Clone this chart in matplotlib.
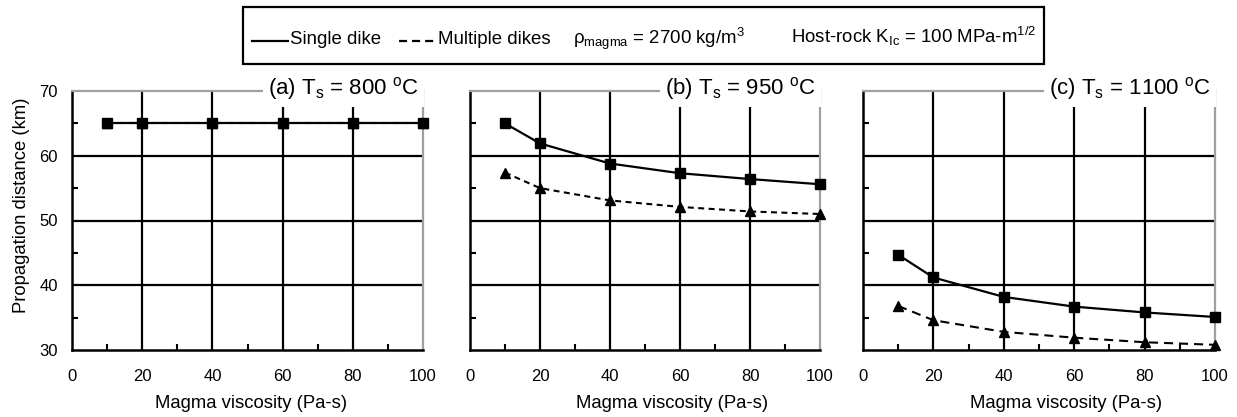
import matplotlib
matplotlib.use('Agg')
import matplotlib.pyplot as plt
from matplotlib import font_manager as fm
from matplotlib.lines import Line2D
from matplotlib.patches import Rectangle
from matplotlib.ticker import MultipleLocator

# ---------------- data ----------------
viscosity = [10, 20, 40, 60, 80, 100]
single_a = [65.0, 65.0, 65.0, 65.0, 65.0, 65.0]
multi_a = [65.0, 65.0, 65.0, 65.0, 65.0, 65.0]
single_b = [65.0, 61.9, 58.8, 57.3, 56.4, 55.6]
multi_b = [57.4, 55.0, 53.1, 52.1, 51.4, 51.0]
single_c = [44.7, 41.2, 38.2, 36.7, 35.8, 35.1]
multi_c = [36.8, 34.6, 32.8, 31.9, 31.2, 30.8]
panel_titles = [r'(a) T$_{\mathsf{s}}$ = 800 $^{\mathsf{o}}$C',
                r'(b) T$_{\mathsf{s}}$ = 950 $^{\mathsf{o}}$C',
                r'(c) T$_{\mathsf{s}}$ = 1100 $^{\mathsf{o}}$C']
x_label = 'Magma viscosity (Pa-s)'
y_label = 'Propagation distance (km)'

# ---------------- fonts ----------------
try:
    fm.findfont(fm.FontProperties(family='Liberation Sans Narrow'), fallback_to_default=False)
    title_family, title_size = 'Liberation Sans Narrow', 19
except ValueError:
    title_family, title_size = 'Liberation Sans', 16

plt.rcParams['font.family'] = ['Liberation Sans', 'DejaVu Sans']
plt.rcParams['mathtext.fontset'] = 'custom'
plt.rcParams['mathtext.rm'] = 'Liberation Sans'
plt.rcParams['mathtext.it'] = 'Liberation Sans:italic'
plt.rcParams['mathtext.sf'] = title_family
plt.rcParams['lines.scale_dashes'] = False

W, H = 1237, 417
fig = plt.figure(figsize=(W / 100, H / 100), dpi=100)


def px_axes(x0, x1, y0, y1):
    return fig.add_axes([x0 / W, 1 - y1 / H, (x1 - x0) / W, (y1 - y0) / H])


axes_px = [(72, 423, 91, 350), (470, 820, 91, 350), (863, 1215, 91, 350)]
xlabel_cx = [251, 672, 1066]
dash_patterns = [(4.3, 3.6), (4.3, 3.2), (6.5, 4.3)]
singles = [single_a, single_b, single_c]
multis = [multi_a, multi_b, multi_c]
gray = '#a0a0a0'

for i, (box, title) in enumerate(zip(axes_px, panel_titles)):
    ax = px_axes(*box)
    ax.set_xlim(0, 100)
    ax.set_ylim(30, 70)
    ax.xaxis.set_major_locator(MultipleLocator(20))
    ax.xaxis.set_minor_locator(MultipleLocator(10))
    ax.yaxis.set_major_locator(MultipleLocator(10))
    ax.yaxis.set_minor_locator(MultipleLocator(5))
    ax.tick_params(which='major', length=0, labelsize=12)
    ax.tick_params(axis='x', which='major', pad=14)
    ax.tick_params(axis='y', which='major', pad=10)
    ax.tick_params(which='minor', direction='in', length=4, width=1.5, color='black')
    if i > 0:
        ax.tick_params(axis='y', labelleft=False)
    for s in ['left', 'bottom']:
        ax.spines[s].set_color('black')
        ax.spines[s].set_linewidth(1.8)
    for s in ['top', 'right']:
        ax.spines[s].set_color(gray)
        ax.spines[s].set_linewidth(1.6)
    for gx in [20, 40, 60, 80]:
        ax.axvline(gx, color='black', lw=1.6, zorder=1)
    for gy in [40, 50, 60]:
        ax.axhline(gy, color='black', lw=1.6, zorder=1)

    ax.plot(viscosity, multis[i], color='black', lw=1.5, dashes=dash_patterns[i],
            marker='^', markersize=7.8, clip_on=False, zorder=3)
    ax.plot(viscosity, singles[i], color='black', lw=1.6, linestyle='-',
            marker='s', markersize=7.6, clip_on=False, zorder=4)

    ax.text(0.988, 0.985, title, transform=ax.transAxes, ha='right', va='baseline',
            fontsize=title_size, family=[title_family, 'Liberation Sans'],
            zorder=10, clip_on=False,
            bbox=dict(boxstyle='square,pad=0.22', fc='white', ec='none'))

    fig.text(xlabel_cx[i] / W, 1 - 403 / H, x_label, ha='center', va='center', fontsize=13.3)

fig.text(22 / W, 1 - 205 / H, y_label, rotation=90, ha='center', va='center', fontsize=13.3)

# ---------------- legend box ----------------
fig.add_artist(Rectangle((243 / W, 1 - 63.5 / H), (1044 - 243) / W, (63.5 - 7) / H,
                         transform=fig.transFigure, fill=False, ec='black', lw=1.6))
yl = 1 - 40.7 / H
yb = 1 - 43.5 / H
fig.add_artist(Line2D([252 / W, 288 / W], [yl, yl], transform=fig.transFigure,
                      color='black', lw=1.6))
fig.text(290 / W, yb, 'Single dike', fontsize=13.4, va='baseline')
fig.add_artist(Line2D([399 / W, 437 / W], [yl, yl], transform=fig.transFigure,
                      color='black', lw=1.6, dashes=(5.8, 3.6)))
fig.text(438 / W, yb, 'Multiple dikes', fontsize=13.4, va='baseline')
fig.text(573 / W, yb, r'$\mathrm{\rho}_{\mathrm{magma}}$ = 2700 kg/m$^{\mathrm{3}}$',
         fontsize=13.4, va='baseline')
fig.text(791 / W, yb, r'Host-rock K$_{\mathrm{Ic}}$ = 100 MPa-m$^{\mathrm{1/2}}$',
         fontsize=13.4, va='baseline')

fig.savefig('out.png', dpi=100)
